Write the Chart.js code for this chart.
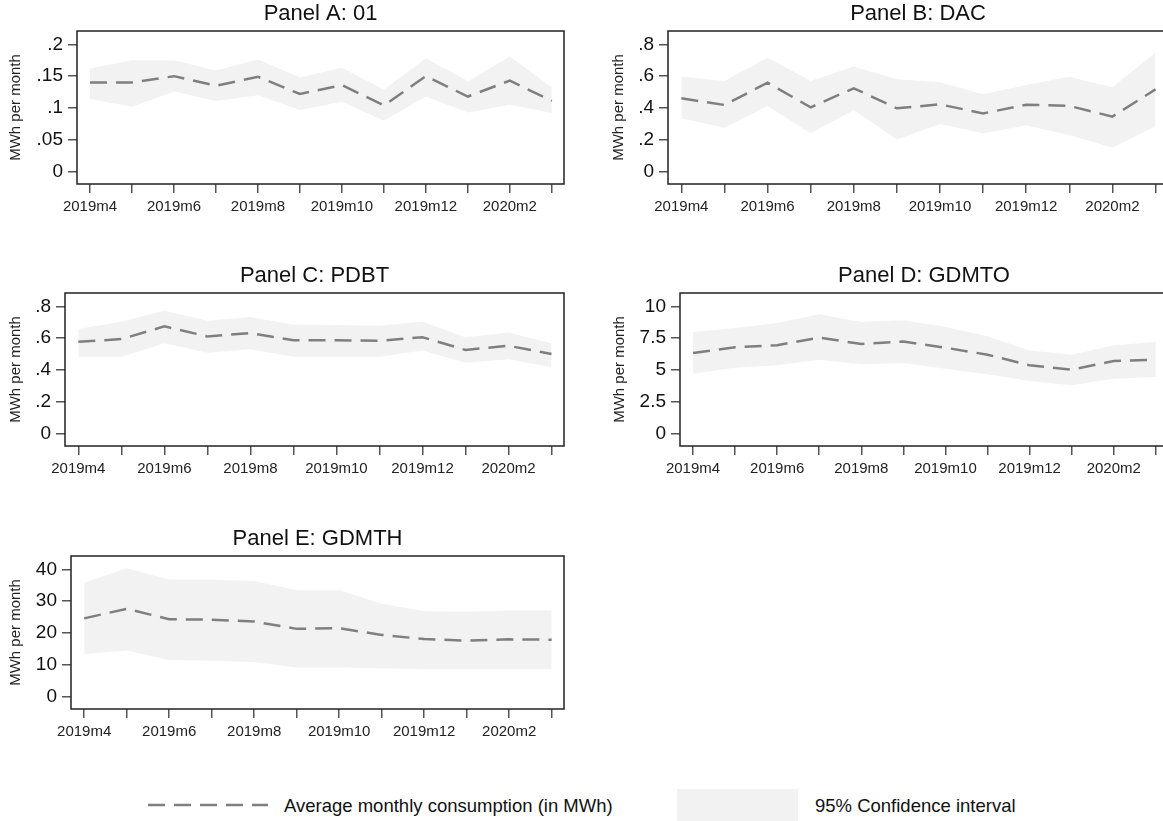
<!DOCTYPE html>
<html>
<head>
<meta charset="utf-8">
<script src="https://cdn.jsdelivr.net/npm/chart.js@4/dist/chart.umd.min.js"></script>
<style>
  html, body { margin: 0; padding: 0; background: #fff; }
  body { width: 1163px; height: 821px; position: relative; overflow: hidden; font-family: 'Liberation Sans', Arial, sans-serif; }
  .panel { position: absolute; }
  .lg { position: absolute; font-size: 18.5px; line-height: 20px; color: #111; white-space: nowrap; }
</style>
</head>
<body>

<div class="panel" id="pA"><canvas id="cA"></canvas></div>
<div class="panel" id="pB"><canvas id="cB"></canvas></div>
<div class="panel" id="pC"><canvas id="cC"></canvas></div>
<div class="panel" id="pD"><canvas id="cD"></canvas></div>
<div class="panel" id="pE"><canvas id="cE"></canvas></div>

<!-- legend -->
<svg style="position:absolute;left:148px;top:800px" width="125" height="10">
  <line x1="0" y1="5" x2="120" y2="5" stroke="#7f7f7f" stroke-width="2.5" stroke-dasharray="17 9"/>
</svg>
<div class="lg" style="left:284px;top:796px">Average monthly consumption (in MWh)</div>
<div style="position:absolute;left:677px;top:789px;width:121px;height:40px;background:#f2f2f2"></div>
<div class="lg" style="left:815px;top:796px">95% Confidence interval</div>

<script>
// --- Data ---
const months = ['2019m4', '2019m5', '2019m6', '2019m7', '2019m8', '2019m9',
                '2019m10', '2019m11', '2019m12', '2020m1', '2020m2', '2020m3'];

// Panel A: 01
const meanA = [0.140, 0.140, 0.150, 0.135, 0.149, 0.122, 0.136, 0.104, 0.150, 0.118, 0.143, 0.111];
const lowA  = [0.114, 0.102, 0.126, 0.111, 0.120, 0.097, 0.110, 0.080, 0.118, 0.093, 0.105, 0.092];
const upA   = [0.162, 0.175, 0.175, 0.159, 0.176, 0.148, 0.163, 0.129, 0.178, 0.142, 0.181, 0.132];
const ticksA = [0, 0.05, 0.1, 0.15, 0.2];

// Panel B: DAC
const meanB = [0.461, 0.419, 0.559, 0.404, 0.524, 0.398, 0.423, 0.366, 0.421, 0.413, 0.346, 0.517];
const lowB  = [0.335, 0.276, 0.413, 0.241, 0.387, 0.203, 0.300, 0.241, 0.290, 0.230, 0.151, 0.285];
const upB   = [0.597, 0.570, 0.716, 0.570, 0.660, 0.580, 0.561, 0.486, 0.545, 0.597, 0.530, 0.748];
const ticksB = [0, 0.2, 0.4, 0.6, 0.8];

// Panel C: PDBT
const meanC = [0.577, 0.594, 0.674, 0.611, 0.632, 0.587, 0.587, 0.583, 0.606, 0.526, 0.552, 0.501];
const lowC  = [0.484, 0.484, 0.568, 0.509, 0.531, 0.484, 0.484, 0.484, 0.522, 0.446, 0.467, 0.417];
const upC   = [0.657, 0.703, 0.773, 0.709, 0.733, 0.684, 0.682, 0.678, 0.703, 0.606, 0.636, 0.568];
const ticksC = [0, 0.2, 0.4, 0.6, 0.8];

// Panel D: GDMTO
const meanD = [6.34, 6.78, 6.95, 7.54, 7.04, 7.23, 6.75, 6.20, 5.37, 5.03, 5.71, 5.81];
const lowD  = [4.71, 5.18, 5.37, 5.81, 5.45, 5.55, 5.10, 4.66, 4.14, 3.80, 4.32, 4.45];
const upD   = [7.98, 8.30, 8.69, 9.37, 8.77, 8.90, 8.38, 7.64, 6.54, 6.20, 6.94, 7.20];
const ticksD = [0, 2.5, 5, 7.5, 10];

// Panel E: GDMTH
const meanE = [24.6, 27.6, 24.3, 24.2, 23.6, 21.3, 21.5, 19.4, 18.1, 17.6, 18.0, 17.9];
const lowE  = [13.4, 14.5, 11.5, 11.3, 10.9, 9.2, 9.2, 8.9, 8.6, 8.6, 8.6, 8.6];
const upE   = [35.8, 40.3, 36.8, 36.7, 36.3, 33.4, 33.4, 29.2, 26.8, 26.7, 27.1, 27.1];
const ticksE = [0, 10, 20, 30, 40];

// --- Drawing ---
Chart.defaults.font.family = "'Liberation Sans', Arial, sans-serif";

const lineGray = '#7f7f7f';
const bandGray = '#f2f2f2';

// plot region outline, like Stata draws it
const framePlugin = {
  id: 'frame',
  afterDraw(chart) {
    const { ctx, chartArea: a } = chart;
    ctx.save();
    ctx.strokeStyle = '#222';
    ctx.lineWidth = 1.5;
    ctx.strokeRect(a.left, a.top, a.right - a.left, a.bottom - a.top);
    ctx.restore();
  }
};

function stataLabel(v) {
  return String(v).replace(/^0\./, '.');
}

function toPoints(arr) {
  return arr.map((v, i) => ({ x: i, y: v }));
}

function makePanel(id, title, mean, low, up, yTicks, left, top, axisW, frameW) {
  const frameH = 153, titleH = 31, xAxisH = 40;
  const w = axisW + frameW + 4;
  const h = titleH + frameH + xAxisH;
  const wrap = document.getElementById('p' + id);
  wrap.style.left = left + 'px';
  wrap.style.top = top + 'px';
  const canvas = document.getElementById('c' + id);
  canvas.width = w;
  canvas.height = h;
  canvas.style.width = w + 'px';
  canvas.style.height = h + 'px';

  const tMax = yTicks[yTicks.length - 1];

  new Chart(canvas, {
    type: 'line',
    data: {
      datasets: [
        {
          label: 'Average monthly consumption (in MWh)',
          data: toPoints(mean),
          borderColor: lineGray,
          borderWidth: 2.5,
          borderDash: [17, 9],
          pointRadius: 0,
          tension: 0,
          fill: false
        },
        {
          label: 'lower',
          data: toPoints(low),
          borderColor: 'rgba(0,0,0,0)',
          borderWidth: 0,
          pointRadius: 0,
          tension: 0,
          fill: false
        },
        {
          label: '95% Confidence interval',
          data: toPoints(up),
          borderColor: 'rgba(0,0,0,0)',
          borderWidth: 0,
          backgroundColor: bandGray,
          pointRadius: 0,
          tension: 0,
          fill: '-1'
        }
      ]
    },
    options: {
      responsive: false,
      animation: false,
      devicePixelRatio: 1,
      layout: { padding: { left: 0, right: 4, top: 0, bottom: 0 } },
      plugins: {
        legend: { display: false },
        tooltip: { enabled: false },
        title: {
          display: true,
          text: title,
          fullSize: false,
          color: '#111',
          font: { size: 22, weight: 'normal', lineHeight: 1.2 },
          padding: { top: 0.8, bottom: 3.8 }
        }
      },
      scales: {
        x: {
          type: 'linear',
          min: -0.31,
          max: 11.29,
          bounds: 'data',
          afterBuildTicks: s => { s.ticks = months.map((m, i) => ({ value: i })); },
          afterFit: s => { s.height = xAxisH; },
          border: { display: false },
          grid: { drawOnChartArea: false, tickLength: 9, color: '#555', lineWidth: 1.5 },
          ticks: {
            autoSkip: false,
            maxRotation: 0,
            padding: 5,
            color: '#222',
            font: { size: 15 },
            callback: v => (v % 2 === 0 ? months[v] : '')
          }
        },
        y: {
          type: 'linear',
          min: -tMax * 0.0965,
          max: tMax * 1.1044,
          bounds: 'data',
          afterBuildTicks: s => { s.ticks = yTicks.map(v => ({ value: v })); },
          afterFit: s => { s.width = axisW; },
          border: { display: false },
          grid: { drawOnChartArea: false, tickLength: 9, color: '#555', lineWidth: 1.5 },
          ticks: {
            padding: 5,
            color: '#111',
            font: { size: 19 },
            callback: v => stataLabel(v)
          },
          title: {
            display: true,
            text: 'MWh per month',
            color: '#222',
            font: { size: 15 },
            padding: { top: 7, bottom: 0 }
          }
        }
      }
    },
    plugins: [framePlugin]
  });
}

makePanel('A', 'Panel A: 01',    meanA, lowA, upA, ticksA, 0,   0,   77, 487);
makePanel('B', 'Panel B: DAC',   meanB, lowB, upB, ticksB, 603, 0,   65, 500);
makePanel('C', 'Panel C: PDBT',  meanC, lowC, upC, ticksC, 0,   262, 65, 499);
makePanel('D', 'Panel D: GDMTO', meanD, lowD, upD, ticksD, 604, 262, 76, 488);
makePanel('E', 'Panel E: GDMTH', meanE, lowE, upE, ticksE, 0,   525, 71, 493);
</script>
</body>
</html>
